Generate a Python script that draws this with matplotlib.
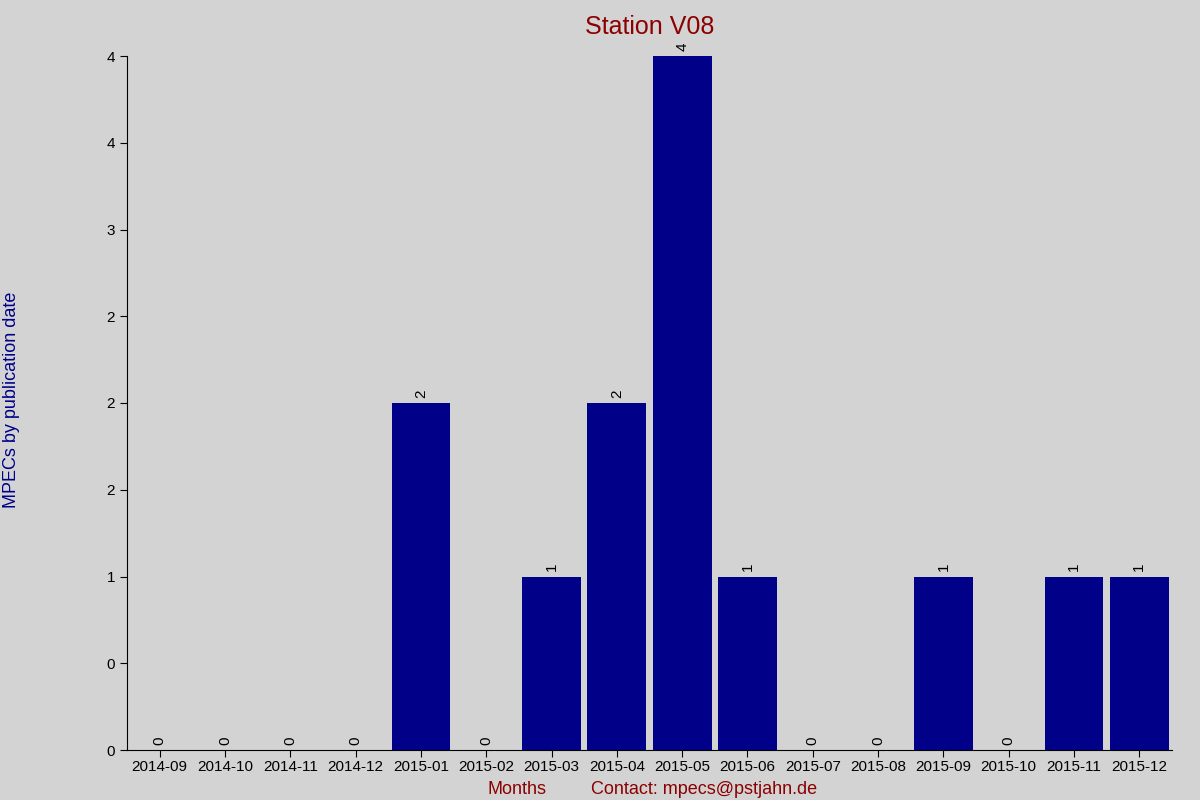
import matplotlib
matplotlib.use("Agg")
import matplotlib.pyplot as plt

months = ["2014-09","2014-10","2014-11","2014-12","2015-01","2015-02","2015-03","2015-04",
          "2015-05","2015-06","2015-07","2015-08","2015-09","2015-10","2015-11","2015-12"]
counts = [0,0,0,0,2,0,1,2,4,1,0,0,1,0,1,1]
yticks = [0,0.5,1,1.5,2,2.5,3,3.5,4]

plt.rcParams['font.family'] = ['Liberation Sans', 'DejaVu Sans']
fig = plt.figure(figsize=(12,8), dpi=100, facecolor='#d3d3d3')
ax = fig.add_axes([127/1200, 50/800, 1045/1200, 694/800])
ax.set_facecolor('#d3d3d3')
x = list(range(len(months)))
ax.bar(x, counts, width=0.9, color='#000088')
for xi, c in zip(x, counts):
    ax.text(xi, c + 0.03, str(c), rotation=90, ha='center', va='bottom', fontsize=11)
ax.set_xlim(-0.5, len(months) - 0.5)
ax.set_ylim(0, 4)
ax.set_xticks(x)
ax.set_xticklabels(months, fontsize=11)
ax.set_yticks(yticks)
ax.set_yticklabels(['{:.0f}'.format(v) for v in yticks], fontsize=11)
for s in ['top','right']:
    ax.spines[s].set_visible(False)
ax.tick_params(direction='out', length=5)
ax.tick_params(axis='x', pad=2)
ax.set_title('Station V08', color='#8b0000', fontsize=18, pad=16)
fig.text(517/1200, 6/800, 'Months', color='#8b0000', fontsize=13, ha='center')
fig.text(704/1200, 6/800, 'Contact: mpecs@pstjahn.de', color='#8b0000', fontsize=13, ha='center')
fig.text(12/1200, 0.5, 'MPECs by publication date', color='#000088', fontsize=13,
         rotation=90, ha='center', va='center')
fig.savefig('out.png', facecolor=fig.get_facecolor())
